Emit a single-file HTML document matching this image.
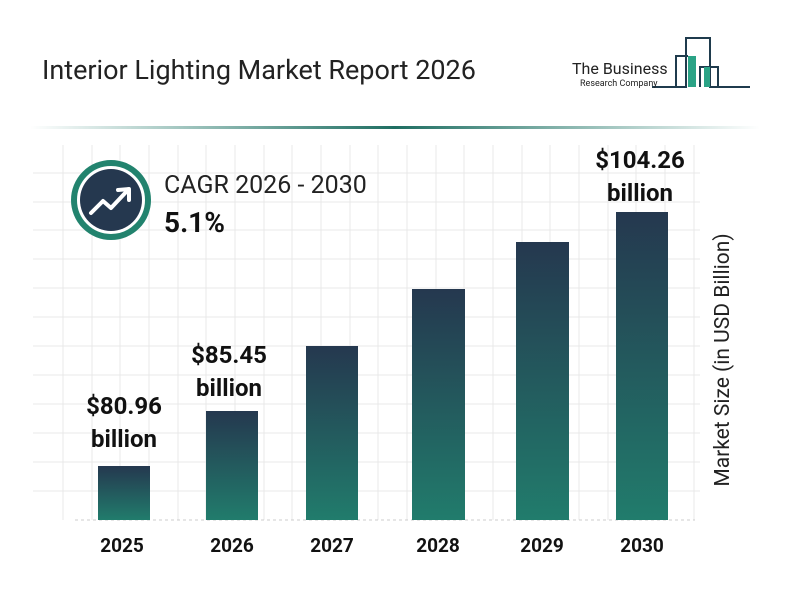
<!DOCTYPE html><html><head><style>body{margin:0;background:#fff}</style></head><body>
<svg width="800" height="600" xmlns="http://www.w3.org/2000/svg" font-family="Roboto, 'Liberation Sans', sans-serif">
<defs>
<linearGradient id="g" x1="0" y1="0" x2="0" y2="1"><stop offset="0" stop-color="#25384f"/><stop offset="1" stop-color="#217c6c"/></linearGradient>
<linearGradient id="hl" x1="0" y1="0" x2="1" y2="0"><stop offset="0" stop-color="#1f7a6a" stop-opacity="0"/><stop offset="0.5" stop-color="#1f6e62"/><stop offset="1" stop-color="#1f7a6a" stop-opacity="0"/></linearGradient>
</defs>
<rect width="800" height="600" fill="#fff"/>
<text x="42" y="79" font-size="27" fill="#222">Interior Lighting Market Report 2026</text>
<g fill="none" stroke="#1f3b4d" stroke-width="2">
<polyline points="652,87 686,87 686,38 710,38 710,87 750,87"/>
<polyline points="676,87 676,56 688,56"/>
<polyline points="700,87 700,67 718,67 718,87"/>
</g>
<rect x="688" y="56" width="8" height="31" fill="#2aa386"/>
<rect x="704" y="67" width="6" height="20" fill="#2aa386"/>
<text x="572" y="74" font-size="16" fill="#222">The Business</text>
<text x="580" y="86" font-size="9" fill="#222">Research Company</text>
<rect x="30" y="126" width="730" height="3" fill="url(#hl)"/>
<g stroke="#e8e8e8" stroke-width="1">
<path d="M63 145V520M92 145V520M120 145V520M149 145V520M178 145V520M206 145V520M235 145V520M264 145V520M292 145V520M321 145V520M350 145V520M378 145V520M407 145V520M436 145V520M464 145V520M493 145V520M522 145V520M550 145V520M579 145V520M608 145V520M636 145V520M665 145V520M694 145V520"/>
<path d="M33 173H700M33 202H700M33 230H700M33 259H700M33 288H700M33 317H700M33 346H700M33 375H700M33 404H700M33 433H700M33 462H700M33 491H700"/>
</g>
<line x1="75" y1="520" x2="695" y2="520" stroke="#ccc" stroke-dasharray="3,3"/>
<rect x="98" y="466" width="52" height="54" fill="url(#g)"/>
<rect x="206" y="411" width="52" height="109" fill="url(#g)"/>
<rect x="306" y="346" width="52" height="174" fill="url(#g)"/>
<rect x="412" y="289" width="53" height="231" fill="url(#g)"/>
<rect x="516" y="242" width="53" height="278" fill="url(#g)"/>
<rect x="616" y="212" width="52" height="308" fill="url(#g)"/>
<g font-size="19" font-weight="bold" fill="#111" text-anchor="middle">
<text x="122" y="552">2025</text><text x="232" y="552">2026</text><text x="332" y="552">2027</text><text x="438" y="552">2028</text><text x="542" y="552">2029</text><text x="642" y="552">2030</text>
</g>
<g font-size="24" font-weight="bold" fill="#111" text-anchor="middle">
<text x="124" y="414">$80.96</text><text x="124" y="447">billion</text>
<text x="229" y="363">$85.45</text><text x="229" y="396">billion</text>
<text x="640" y="168">$104.26</text><text x="640" y="201">billion</text>
</g>
<text transform="translate(729,360) rotate(-90)" font-size="21" fill="#222" text-anchor="middle">Market Size (in USD Billion)</text>
<circle cx="111" cy="200" r="37" fill="#fff" stroke="#22836e" stroke-width="6"/>
<circle cx="111" cy="200" r="31" fill="#25384f"/>
<polyline points="91,213 103,201 111,208 127,191" fill="none" stroke="#fff" stroke-width="4" stroke-linejoin="round" stroke-linecap="round"/>
<polyline points="118,190 129,189 129,200" fill="none" stroke="#fff" stroke-width="4" stroke-linejoin="round" stroke-linecap="round"/>
<text x="164" y="193" font-size="25" fill="#222">CAGR 2026 - 2030</text>
<text x="164" y="232" font-size="28" font-weight="bold" fill="#111">5.1%</text>
</svg>
</body></html>
